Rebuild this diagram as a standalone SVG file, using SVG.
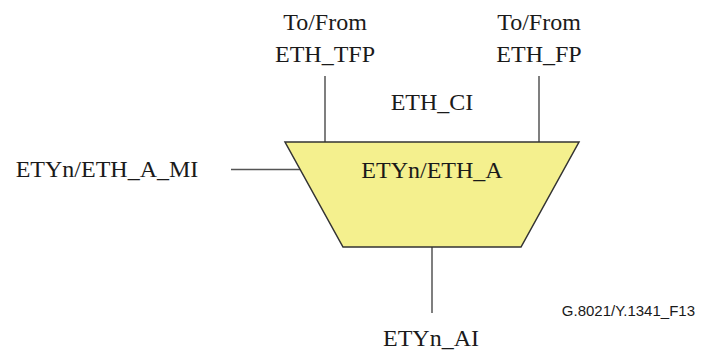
<svg xmlns="http://www.w3.org/2000/svg" width="701" height="351" viewBox="0 0 701 351">
<style>
.t{font-family:"Liberation Serif","Times New Roman",serif;font-size:24px;fill:#1a1a1a;text-anchor:middle}
.c{stroke:#555;stroke-width:1.5;fill:none}
.ref{font-family:"Liberation Sans",Arial,sans-serif;font-size:15px;fill:#1a1a1a;text-anchor:end}
</style>
<rect width="701" height="351" fill="#fff"/>
<g id="connectors">
<line class="c" x1="325" y1="76" x2="325" y2="142"/>
<line class="c" x1="539" y1="76" x2="539" y2="142"/>
<line class="c" x1="231" y1="169.5" x2="300" y2="169.5"/>
<line class="c" x1="432" y1="247" x2="432" y2="313"/>
</g>
<g id="node-eth-a">
<polygon points="285,142 579,142 521,247 343,247" fill="#F4F08E" stroke="#333" stroke-width="1.5"/>
<text class="t" x="432" y="178">ETYn/ETH_A</text>
</g>
<g id="label-tfp">
<text class="t" x="325" y="30">To/From</text>
<text class="t" x="325" y="62">ETH_TFP</text>
</g>
<g id="label-fp">
<text class="t" x="539" y="30">To/From</text>
<text class="t" x="539" y="62">ETH_FP</text>
</g>
<g id="label-ci">
<text class="t" x="432" y="110">ETH_CI</text>
</g>
<g id="label-mi">
<text class="t" x="107" y="177">ETYn/ETH_A_MI</text>
</g>
<g id="label-ai">
<text class="t" x="431" y="346">ETYn_AI</text>
</g>
<text class="ref" x="695" y="316">G.8021/Y.1341_F13</text>
</svg>
